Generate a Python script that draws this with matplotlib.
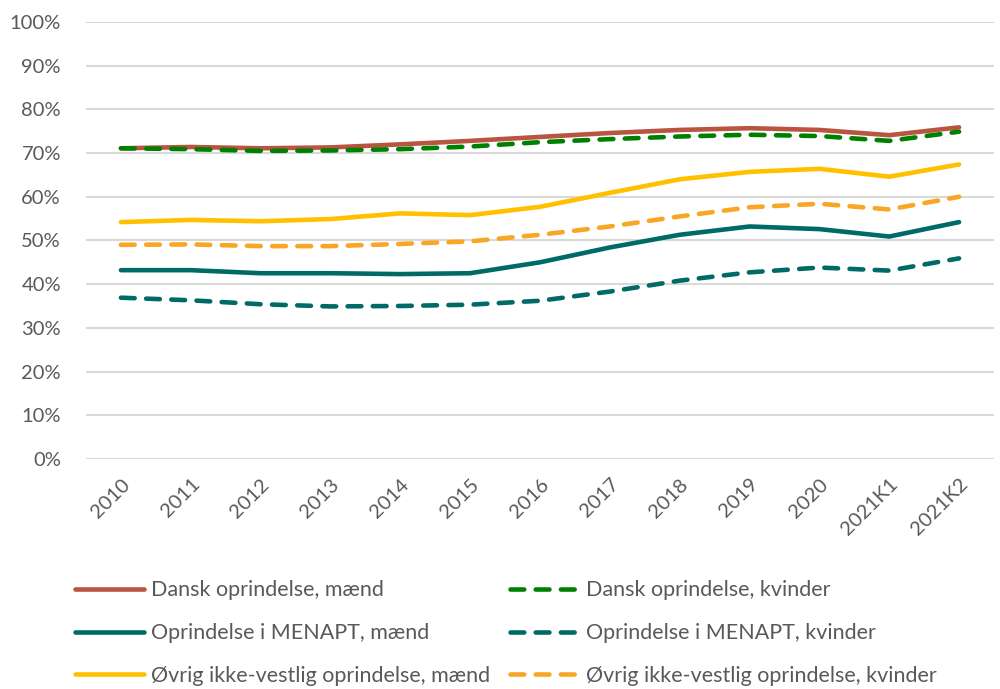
import matplotlib.pyplot as plt
from matplotlib.lines import Line2D

plt.rcParams['font.family'] = ['Lato', 'DejaVu Sans']

periods = ["2010", "2011", "2012", "2013", "2014", "2015", "2016",
           "2017", "2018", "2019", "2020", "2021K1", "2021K2"]

# Employment rates (%)
dansk_maend = [71.1, 71.4, 71.1, 71.3, 72.0, 72.8, 73.7, 74.6, 75.3, 75.7, 75.3, 74.1, 75.9]
dansk_kvinder = [71.1, 70.9, 70.5, 70.6, 70.9, 71.5, 72.5, 73.2, 73.8, 74.2, 73.9, 72.8, 74.9]
menapt_maend = [43.2, 43.2, 42.5, 42.5, 42.3, 42.5, 45.0, 48.4, 51.3, 53.2, 52.6, 50.9, 54.2]
menapt_kvinder = [36.9, 36.3, 35.4, 34.9, 35.0, 35.3, 36.2, 38.3, 40.8, 42.7, 43.8, 43.1, 45.9]
oevrig_maend = [54.2, 54.7, 54.4, 54.9, 56.2, 55.8, 57.7, 60.9, 64.0, 65.7, 66.4, 64.6, 67.4]
oevrig_kvinder = [49.0, 49.1, 48.7, 48.7, 49.2, 49.8, 51.3, 53.2, 55.5, 57.6, 58.4, 57.1, 60.0]

labels = ["Dansk oprindelse, mænd", "Oprindelse i MENAPT, mænd",
          "Øvrig ikke-vestlig oprindelse, mænd",
          "Dansk oprindelse, kvinder", "Oprindelse i MENAPT, kvinder",
          "Øvrig ikke-vestlig oprindelse, kvinder"]
series = [dansk_maend, menapt_maend, oevrig_maend,
          dansk_kvinder, menapt_kvinder, oevrig_kvinder]
colors = ["#B85440", "#006B66", "#FFC000", "#008000", "#006B66", "#F9A625"]
dashed = [False, False, False, True, True, True]

fig = plt.figure(figsize=(10, 6.89), dpi=100)
ax = fig.add_axes([0.086, 0.334, 0.994 - 0.086, 0.968 - 0.334])

x = list(range(len(periods)))
lw = 3.3
dash = (0, (3.0, 2.5))

# draw the kvinder series after the maend series so dashes sit on top
order = [0, 1, 2, 5, 4, 3]
for i in order:
    ax.plot(x, [v / 100 for v in series[i]], color=colors[i], lw=lw,
            linestyle=dash if dashed[i] else '-',
            dash_capstyle='round', solid_capstyle='round', zorder=3)

ax.set_ylim(0, 1)
ax.set_xlim(-0.5, len(periods) - 0.5)
ax.set_yticks([i / 10 for i in range(11)])
ax.set_yticklabels([f"{i * 10}%" for i in range(11)])
ax.set_xticks(x)
ax.set_xticklabels(periods, rotation=45, ha='right', rotation_mode='anchor')
ax.grid(axis='y', color='#d9d9d9', lw=1.5, zorder=0)
ax.set_axisbelow(True)
for s in ax.spines.values():
    s.set_visible(False)
ax.tick_params(axis='both', length=0, labelsize=14.5, colors='#595959')
ax.tick_params(axis='y', pad=18)
ax.tick_params(axis='x', pad=12)

handles = [Line2D([0], [0], color=colors[i], lw=lw,
                  linestyle=dash if dashed[i] else '-',
                  dash_capstyle='round', solid_capstyle='round')
           for i in range(6)]
fig.legend(handles, labels, loc='upper left', bbox_to_anchor=(0.066, 0.17),
           ncol=2, frameon=False, fontsize=15.5, labelcolor='#595959',
           handlelength=3.2, handletextpad=0.35, columnspacing=0.9,
           labelspacing=1.05, borderaxespad=0)

fig.savefig("out.png", dpi=100)
